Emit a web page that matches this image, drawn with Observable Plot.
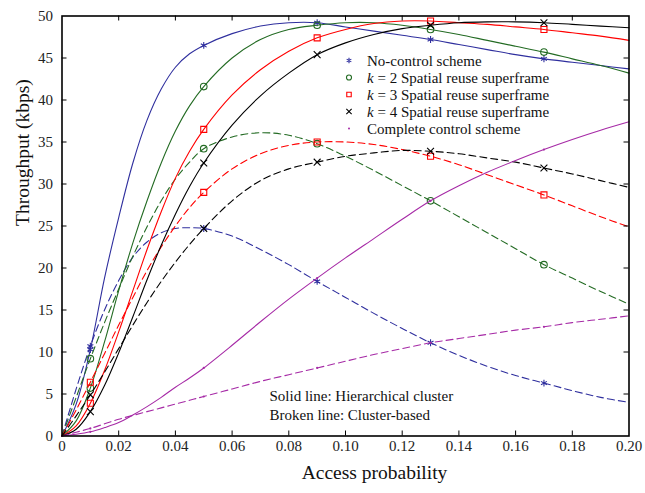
<!DOCTYPE html>
<html><head><meta charset="utf-8">
<script src="https://cdn.jsdelivr.net/npm/d3@7"></script>
<script src="https://cdn.jsdelivr.net/npm/@observablehq/plot@0.6"></script>
<style>body{margin:0;background:#fff} svg{display:block}</style>
</head><body><div id="chart"></div>
<script>
// ---- data ----
const accessProb = [0, 0.005, 0.01, 0.015, 0.02, 0.025, 0.03, 0.035, 0.04, 0.045, 0.05, 0.06, 0.07, 0.08, 0.09, 0.10, 0.11, 0.12, 0.13, 0.14, 0.15, 0.16, 0.17, 0.18, 0.19, 0.20];
const markerProb = [0.01, 0.05, 0.09, 0.13, 0.17];

const noControlSolid  = [0, 3.8, 10.3, 18.8, 26.0, 32.5, 37.6, 41.3, 43.9, 45.5, 46.5, 47.9, 48.8, 49.2, 49.2, 48.7, 48.2, 47.7, 47.2, 46.6, 46.0, 45.4, 44.9, 44.5, 44.1, 43.7];
const noControlBroken = [0, 5.6, 10.7, 15.0, 18.5, 21.3, 23.1, 24.2, 24.7, 24.8, 24.7, 23.8, 22.2, 20.4, 18.4, 16.5, 14.6, 12.8, 11.1, 9.6, 8.3, 7.2, 6.3, 5.4, 4.6, 4.0];
const k2Solid  = [0, 1.8, 5.7, 11.2, 17.3, 23.0, 28.0, 32.5, 36.3, 39.3, 41.6, 45.0, 47.2, 48.4, 48.9, 49.2, 49.2, 48.9, 48.4, 47.8, 47.1, 46.4, 45.7, 44.9, 44.1, 43.2];
const k2Broken = [0, 4.6, 9.2, 13.5, 17.5, 21.4, 24.9, 28.0, 30.6, 32.6, 34.2, 35.6, 36.1, 35.8, 34.8, 33.3, 31.6, 29.8, 28.0, 26.1, 24.2, 22.3, 20.4, 18.8, 17.2, 15.7];
const k3Solid  = [0, 1.2, 3.9, 7.8, 12.4, 17.3, 22.2, 26.7, 30.7, 33.9, 36.5, 40.6, 43.6, 45.8, 47.4, 48.4, 49.1, 49.4, 49.4, 49.2, 49.0, 48.7, 48.4, 48.0, 47.6, 47.1];
const k3Broken = [0, 3.1, 6.4, 9.8, 13.2, 16.5, 19.7, 22.5, 25.0, 27.2, 29.0, 31.8, 33.6, 34.6, 35.0, 35.0, 34.7, 34.1, 33.3, 32.3, 31.1, 29.9, 28.7, 27.4, 26.1, 24.9];
const k4Solid  = [0, 0.8, 2.9, 6.0, 9.9, 14.2, 18.6, 22.7, 26.4, 29.7, 32.5, 37.0, 40.5, 43.2, 45.4, 46.8, 47.8, 48.5, 48.9, 49.2, 49.3, 49.3, 49.2, 49.0, 48.8, 48.6];
const k4Broken = [0, 2.4, 4.9, 7.6, 10.4, 13.2, 15.9, 18.4, 20.7, 22.8, 24.7, 28.0, 30.4, 31.8, 32.6, 33.3, 33.7, 34.0, 33.9, 33.6, 33.1, 32.6, 31.9, 31.2, 30.4, 29.6];
const completeSolid  = [0, 0.2, 0.5, 1.0, 1.6, 2.5, 3.5, 4.6, 5.8, 6.9, 8.1, 10.8, 13.6, 16.3, 18.8, 21.2, 23.5, 25.8, 28.0, 29.8, 31.4, 32.8, 34.1, 35.3, 36.4, 37.4];
const completeBroken = [0, 0.45, 0.9, 1.45, 2.0, 2.45, 2.9, 3.35, 3.8, 4.25, 4.7, 5.6, 6.5, 7.3, 8.1, 8.9, 9.7, 10.4, 11.1, 11.6, 12.1, 12.6, 13.0, 13.5, 13.9, 14.3];

const seriesLabels = ["No-control scheme", "k = 2 Spatial reuse superframe", "k = 3 Spatial reuse superframe", "k = 4 Spatial reuse superframe", "Complete control scheme"];
const seriesColors = ["#2f2f9e", "#236b23", "#ff0000", "#000000", "#a62aa6"];
const seriesSymbols = ["asterisk", "circle", "square", "times", "circle"];
const xTicks = [0, 0.02, 0.04, 0.06, 0.08, 0.10, 0.12, 0.14, 0.16, 0.18, 0.20];
const yTicks = [0, 5, 10, 15, 20, 25, 30, 35, 40, 45, 50];
const notes = ["Solid line: Hierarchical cluster", "Broken line: Cluster-based"];

// ---- build tables ----
const solids = [noControlSolid, k2Solid, k3Solid, k4Solid, completeSolid];
const brokens = [noControlBroken, k2Broken, k3Broken, k4Broken, completeBroken];
const FONT = "'Liberation Serif', 'Times New Roman', serif";

const marks = [];
solids.forEach((vals, s) => {
  [[vals, null], [brokens[s], "7,4"]].forEach(([v, dash]) => {
    const rows = accessProb.map((x, i) => ({x, y: v[i]}));
    marks.push(Plot.line(rows, {x: "x", y: "y", stroke: seriesColors[s], strokeWidth: 1.1, curve: "catmull-rom", strokeDasharray: dash}));
    const mrows = markerProb.map(x => ({x, y: v[accessProb.indexOf(x)]}));
    const sym = seriesSymbols[s];
    if (s === 4) {
      marks.push(Plot.dot(mrows, {x: "x", y: "y", r: 1.1, fill: seriesColors[s], stroke: "none"}));
    } else {
      marks.push(Plot.dot(mrows, {x: "x", y: "y", symbol: sym, r: sym === "circle" ? 3.3 : sym === "square" ? 3.4 : 3.2, stroke: seriesColors[s], fill: "none", strokeWidth: 1.1}));
    }
  });
});

const chart = Plot.plot({
  width: 645, height: 493,
  marginLeft: 61.5, marginRight: 16.5, marginTop: 15.5, marginBottom: 57.5,
  style: {fontFamily: FONT, fontSize: "15px", color: "#222", background: "#fff"},
  x: {domain: [0, 0.2]},
  y: {domain: [0, 50]},
  marks: [
    ...marks,
    // inward ticks on all four sides
    Plot.ruleX(xTicks.slice(1, -1), {x: d => d, insetTop: 415, stroke: "#000", strokeWidth: 1}),
    Plot.ruleX(xTicks.slice(1, -1), {x: d => d, insetBottom: 415, stroke: "#000", strokeWidth: 1}),
    Plot.ruleY(yTicks.slice(1, -1), {y: d => d, insetRight: 562, stroke: "#000", strokeWidth: 1}),
    Plot.ruleY(yTicks.slice(1, -1), {y: d => d, insetLeft: 562, stroke: "#000", strokeWidth: 1}),
    Plot.frame({stroke: "#000", strokeWidth: 1.6}),
    Plot.axisX(xTicks, {tickSize: 0, tickPadding: 4, fontSize: 15, label: null, tickFormat: d => d === 0 ? "0" : d.toFixed(2)}),
    Plot.axisY(yTicks, {tickSize: 0, tickPadding: 9, fontSize: 15, label: null, tickFormat: d => String(d)}),
    Plot.text(["Access probability"], {frameAnchor: "bottom", dx: 29, dy: 43, fontSize: 19.5, fill: "#111"}),
    Plot.text(["Throughput (kbps)"], {frameAnchor: "left", dx: -39, rotate: -90, fontSize: 19.5, fill: "#111"}),
    Plot.text([notes[0]], {frameAnchor: "bottom-left", dx: 207.5, dy: -35.5, textAnchor: "start", fontSize: 15, fill: "#111"}),
    Plot.text([notes[1]], {frameAnchor: "bottom-left", dx: 207.5, dy: -16.5, textAnchor: "start", fontSize: 15, fill: "#111"})
  ]
});
document.getElementById("chart").appendChild(chart);

// ---- legend inside the plot (top right) ----
const svg = d3.select(chart);
const lg = svg.append("g").attr("font-family", FONT).attr("font-size", 15).attr("fill", "#111").attr("text-anchor", "start");
const d3Sym = {asterisk: d3.symbolAsterisk, circle: d3.symbolCircle, square: d3.symbolSquare, times: d3.symbolTimes};
seriesLabels.forEach((label, i) => {
  const cy = 60.5 + i * 17;
  if (i === 4) {
    lg.append("circle").attr("cx", 349).attr("cy", cy).attr("r", 1).attr("fill", seriesColors[i]);
  } else {
    lg.append("path").attr("transform", `translate(349,${cy})`)
      .attr("d", d3.symbol(d3Sym[seriesSymbols[i]], 20)())
      .attr("fill", "none").attr("stroke", seriesColors[i]).attr("stroke-width", 1.1);
  }
  const t = lg.append("text").attr("x", 367).attr("y", cy).attr("dy", "0.34em").attr("text-anchor", "start");
  if (label.startsWith("k ")) {
    t.append("tspan").attr("font-style", "italic").text("k");
    t.append("tspan").text(label.slice(1));
  } else {
    t.text(label);
  }
});
</script>
</body></html>
